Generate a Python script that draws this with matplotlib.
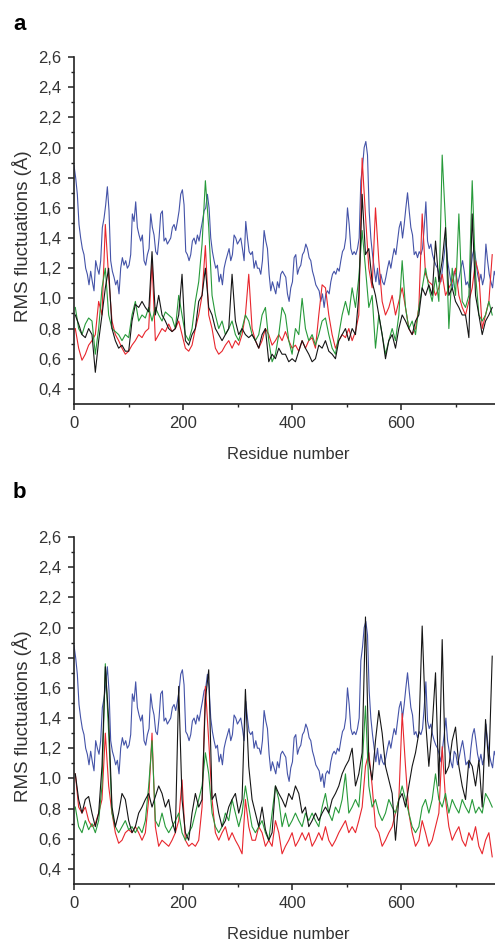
import matplotlib
matplotlib.use("Agg")
import matplotlib.pyplot as plt
import numpy as np
from matplotlib.ticker import FixedLocator, FuncFormatter

plt.rcParams["font.family"] = ["Liberation Sans", "DejaVu Sans"]

# residues per sample
STEP_FINE = 3.058
STEP_COARSE = 6.116
COARSE_START = 2.4

# reference structure, same curve in both panels
BLUE = [
    1.88, 1.80, 1.69, 1.49, 1.40, 1.33, 1.29, 1.20, 1.16, 1.09,
    1.18, 1.11, 1.05, 1.25, 1.20, 1.16, 1.25, 1.47, 1.53, 1.62,
    1.74, 1.58, 1.25, 1.18, 1.14, 1.09, 1.12, 1.03, 1.20, 1.27,
    1.22, 1.25, 1.20, 1.22, 1.29, 1.56, 1.51, 1.64, 1.47, 1.42,
    1.38, 1.42, 1.25, 1.22, 1.29, 1.33, 1.56, 1.47, 1.42, 1.31,
    1.29, 1.40, 1.56, 1.58, 1.38, 1.40, 1.36, 1.38, 1.40, 1.47,
    1.49, 1.45, 1.51, 1.58, 1.69, 1.72, 1.62, 1.31, 1.29, 1.25,
    1.29, 1.38, 1.40, 1.36, 1.42, 1.38, 1.45, 1.51, 1.58, 1.60,
    1.69, 1.60, 1.40, 1.31, 1.25, 1.20, 1.22, 1.11, 1.16, 1.09,
    1.20, 1.25, 1.29, 1.33, 1.25, 1.29, 1.42, 1.40, 1.36, 1.38,
    1.40, 1.33, 1.25, 1.51, 1.40, 1.31, 1.29, 1.31, 1.20, 1.25,
    1.20, 1.20, 1.16, 1.25, 1.45, 1.38, 1.33, 1.16, 1.05, 1.11,
    1.07, 1.03, 1.11, 1.07, 1.16, 1.18, 1.16,
    1.14, 1.03, 0.98, 1.07, 1.11, 1.27, 1.29, 1.16, 1.20, 1.22,
    1.29, 1.31, 1.36, 1.33, 1.27, 1.25, 1.18, 1.14, 1.09, 1.07,
    1.05, 0.98, 1.03, 0.94, 1.03, 1.05, 1.03, 1.11, 1.16, 1.18,
    1.16, 1.20, 1.18, 1.25, 1.31, 1.33, 1.40, 1.60, 1.49, 1.33,
    1.29, 1.31, 1.29, 1.33, 1.40, 1.78, 1.87, 2.00, 2.04, 1.95,
    1.58, 1.40, 1.29, 1.20, 1.11, 1.20, 1.09, 1.16, 1.11, 1.09,
    1.14, 1.20, 1.25, 1.20, 1.27, 1.33, 1.29, 1.38, 1.47, 1.51,
    1.40, 1.49, 1.60, 1.70, 1.58, 1.47, 1.42, 1.29, 1.31, 1.27,
    1.31, 1.29, 1.33, 1.47, 1.64, 1.38, 1.33, 1.36, 1.29, 1.25,
    1.22, 1.20, 1.16, 1.11, 1.20, 1.29, 1.40, 1.25, 1.18, 1.11,
    1.07, 1.18, 1.16, 1.09, 1.14, 1.20, 1.25, 1.18, 1.09, 1.11,
    1.07, 1.20, 1.29, 1.33, 1.25, 1.16, 1.11, 1.16, 1.09, 1.14,
    1.36, 1.25, 1.16, 1.11, 1.07, 1.18, 1.14,
]

# panel a
RED_A = [
    0.80, 0.67, 0.59, 0.63, 0.69, 0.72, 0.76, 0.98, 0.89, 1.49,
    1.14, 0.85, 0.76, 0.72, 0.67, 0.63, 0.65, 0.69, 0.72, 0.76,
    0.74, 0.78, 0.80, 1.25, 0.72, 0.76, 0.80, 0.78, 0.83, 0.78,
    0.80, 0.85, 0.76, 0.67, 0.65, 0.69, 0.80, 0.89, 1.02, 1.35,
    0.89, 0.80, 0.67, 0.63, 0.65, 0.69, 0.72, 0.67, 0.72, 0.69,
    0.76, 0.89, 1.16, 0.80, 0.72, 0.67, 0.72, 0.80, 0.76, 0.69,
    0.72, 0.76, 0.72,
    0.78, 0.72, 0.67, 0.69, 0.65, 0.72, 0.67, 0.72, 0.74, 0.67,
    0.89, 1.09, 1.07, 0.89, 0.76, 0.67, 0.72, 0.76, 0.74, 0.80,
    0.72, 0.78, 0.89, 1.93, 1.55, 1.20, 1.07, 1.60, 1.25, 0.98,
    0.89, 0.94, 1.02, 0.89, 0.98, 1.07, 0.94, 0.80, 0.76, 0.80,
    0.94, 1.56, 1.16, 1.11, 1.09, 1.02, 1.07, 1.16, 1.02, 1.07,
    1.11, 1.20, 1.02, 0.94, 0.89, 0.98, 1.07, 1.25, 1.16, 0.80,
    0.89, 0.98, 1.29,
]
GREEN_A = [
    0.94, 0.80, 0.76, 0.83, 0.87, 0.85, 0.63, 0.80, 1.07, 1.20,
    0.89, 0.80, 0.78, 0.76, 0.72, 0.76, 0.74, 0.89, 0.98, 0.85,
    0.89, 0.87, 0.94, 0.85, 0.94, 0.89, 0.85, 0.91, 0.89, 0.87,
    0.80, 1.02, 0.89, 0.76, 0.72, 0.80, 0.98, 1.11, 1.36, 1.78,
    1.47, 1.02, 0.89, 0.80, 0.85, 0.76, 0.80, 0.85, 0.76, 0.72,
    0.80, 0.89, 0.85, 0.76, 0.72, 0.76, 0.89, 0.94, 0.72, 0.58,
    0.63, 0.76, 0.94,
    0.89, 0.72, 0.63, 0.80, 0.76, 1.00, 0.80, 0.72, 0.76, 0.69,
    0.76, 0.85, 0.87, 0.76, 0.67, 0.63, 0.76, 0.89, 0.98, 0.89,
    1.07, 0.94, 1.14, 1.45, 1.20, 0.94, 1.02, 0.67, 0.89, 0.76,
    0.63, 0.72, 0.80, 0.72, 0.89, 1.25, 0.94, 0.80, 0.85, 0.76,
    0.94, 1.07, 1.20, 1.07, 0.98, 1.14, 0.98, 1.95, 1.50, 0.80,
    1.20, 1.02, 1.56, 0.98, 0.94, 1.02, 1.78, 1.16, 0.89, 0.85,
    0.89, 0.98, 0.89,
]
BLACK_A = [
    0.89, 0.83, 0.76, 0.74, 0.80, 0.76, 0.51, 0.72, 0.89, 1.07,
    1.20, 0.80, 0.72, 0.67, 0.69, 0.65, 0.65, 0.85, 0.96, 0.94,
    0.98, 0.94, 0.91, 1.31, 0.89, 1.02, 0.89, 0.85, 0.80, 0.78,
    0.80, 0.89, 1.16, 0.72, 0.69, 0.76, 0.80, 0.98, 1.02, 1.20,
    0.94, 0.89, 0.80, 0.76, 0.72, 0.76, 0.80, 1.16, 0.85, 0.76,
    0.80, 0.76, 0.74, 0.76, 0.72, 0.67, 0.76, 0.80, 0.58, 0.63,
    0.60, 0.67, 0.63,
    0.63, 0.58, 0.60, 0.58, 0.65, 0.72, 0.67, 0.63, 0.58, 0.60,
    0.69, 0.67, 0.72, 0.65, 0.63, 0.60, 0.72, 0.76, 0.80, 0.72,
    0.80, 0.76, 1.02, 1.69, 1.29, 1.33, 1.11, 1.02, 0.89, 0.76,
    0.60, 0.72, 0.76, 0.67, 0.80, 0.89, 0.85, 0.80, 0.76, 0.85,
    0.89, 1.07, 1.02, 1.09, 1.02, 1.38, 1.11, 1.25, 1.47, 1.02,
    1.07, 0.98, 0.94, 0.89, 0.89, 0.74, 1.56, 1.02, 0.89, 0.76,
    0.85, 0.89, 0.94,
]

# panel b
RED_B = [
    1.03, 0.81, 0.77, 0.81, 0.72, 0.68, 0.70, 0.77, 0.86, 1.30,
    0.95, 0.77, 0.64, 0.57, 0.59, 0.64, 0.66, 0.64, 0.68, 0.64,
    0.59, 0.64, 0.86, 1.30, 0.68, 0.55, 0.59, 0.57, 0.55, 0.59,
    0.64, 0.72, 0.99, 0.59, 0.55, 0.57, 0.55, 0.59, 0.81, 1.61,
    1.25, 0.86, 0.64, 0.59, 0.64, 0.68, 0.59, 0.64, 0.59, 0.55,
    0.50, 0.86, 0.68, 0.59, 0.59, 0.68, 0.64, 0.55, 0.59, 0.55,
    0.72, 0.64, 0.50,
    0.55, 0.59, 0.64, 0.55, 0.59, 0.64, 0.59, 0.64, 0.55, 0.59,
    0.64, 0.59, 0.68, 0.59, 0.55, 0.59, 0.64, 0.68, 0.72, 0.64,
    0.68, 0.64, 0.72, 0.81, 1.08, 1.17, 0.95, 0.68, 0.64, 0.55,
    0.59, 0.64, 0.68, 0.77, 0.86, 1.43, 1.08, 0.77, 0.64, 0.55,
    0.59, 0.72, 0.64, 0.55, 0.59, 0.68, 0.77, 1.21, 0.86, 0.68,
    0.59, 0.64, 0.68, 0.59, 0.55, 0.64, 0.59, 0.68, 0.55, 0.50,
    0.59, 0.64, 0.48,
]
GREEN_B = [
    0.81, 0.68, 0.64, 0.72, 0.66, 0.70, 0.64, 0.72, 0.95, 1.76,
    1.30, 0.77, 0.68, 0.64, 0.68, 0.72, 0.66, 0.68, 0.64, 0.68,
    0.64, 0.72, 0.95, 1.25, 0.72, 0.68, 0.77, 0.68, 0.64, 0.68,
    0.72, 0.77, 0.64, 0.59, 0.64, 0.68, 0.77, 0.86, 0.95, 1.17,
    1.03, 0.77, 0.68, 0.64, 0.68, 0.77, 0.72, 0.86, 0.77, 0.68,
    0.77, 0.95, 0.81, 0.68, 0.64, 0.68, 0.72, 0.64, 0.59, 0.77,
    0.95, 0.86, 0.68,
    0.77, 0.68, 0.72, 0.77, 0.72, 0.68, 0.77, 0.72, 0.77, 0.72,
    0.68, 0.81, 0.90, 0.77, 0.72, 0.81, 0.77, 0.86, 1.03, 0.77,
    0.81, 0.86, 0.81, 1.08, 1.48, 0.95, 0.81, 0.86, 0.77, 0.72,
    0.77, 0.86, 0.81, 0.77, 0.86, 0.95, 0.86, 0.77, 0.68, 0.64,
    0.68, 0.81, 0.86, 0.77, 0.86, 1.03, 0.86, 0.81, 0.90, 0.77,
    0.86, 0.81, 0.77, 0.86, 0.81, 0.77, 0.86, 0.77, 0.81, 0.77,
    0.90, 0.86, 0.81,
]
BLACK_B = [
    1.03, 0.86, 0.77, 0.86, 0.88, 0.77, 0.68, 0.77, 1.08, 1.74,
    1.39, 0.81, 0.68, 0.77, 0.90, 0.86, 0.72, 0.64, 0.68, 0.77,
    0.81, 0.86, 0.90, 0.81, 0.88, 0.95, 0.90, 0.81, 0.86, 0.72,
    0.64, 1.61, 0.86, 0.64, 0.59, 0.77, 0.90, 0.81, 0.86, 1.52,
    1.72, 0.86, 0.90, 0.77, 0.68, 0.72, 0.81, 0.86, 0.90, 0.77,
    0.86, 1.59, 1.08, 0.86, 0.77, 0.68, 0.81, 0.66, 0.59, 0.64,
    0.95, 0.90, 0.86,
    0.81, 0.90, 0.86, 0.95, 0.90, 0.77, 0.81, 0.68, 0.72, 0.77,
    0.72, 0.77, 0.81, 0.77, 0.86, 0.90, 0.95, 1.03, 1.08, 1.12,
    1.20, 0.95, 1.03, 1.17, 2.07, 1.12, 0.99, 1.25, 1.45, 1.30,
    1.08, 0.99, 0.90, 0.59, 0.86, 0.90, 0.81, 0.95, 1.08, 1.17,
    1.30, 2.01, 1.39, 1.08, 1.34, 1.70, 0.95, 1.92, 1.03, 1.08,
    1.25, 1.34, 1.08, 0.95, 0.86, 1.12, 1.08, 0.95, 1.12, 0.81,
    1.39, 1.08, 1.81,
]

Y_TICKS = [0.4, 0.6, 0.8, 1.0, 1.2, 1.4, 1.6, 1.8, 2.0, 2.2, 2.4, 2.6]
X_TICKS = [0, 200, 400, 600]

COLORS = {"blue": "#4453a8", "red": "#e8262d", "green": "#279a3a", "black": "#151515"}


def draw_panel(ax, red, green, black):
    x_fine = np.arange(len(BLUE)) * STEP_FINE
    x_coarse = COARSE_START + np.arange(len(red)) * STEP_COARSE
    lw = 0.8
    ax.plot(x_fine, BLUE, color=COLORS["blue"], lw=lw)
    ax.plot(x_coarse, red, color=COLORS["red"], lw=lw)
    ax.plot(x_coarse, green, color=COLORS["green"], lw=lw)
    ax.plot(x_coarse, black, color=COLORS["black"], lw=lw)

    ax.set_xlim(0, 772)
    ax.set_ylim(0.3, 2.6)
    for side in ("top", "right"):
        ax.spines[side].set_visible(False)
    for side in ("left", "bottom"):
        ax.spines[side].set_linewidth(1.2)
        ax.spines[side].set_color("#222222")

    ax.xaxis.set_major_locator(FixedLocator(X_TICKS))
    ax.xaxis.set_minor_locator(FixedLocator([100, 300, 500, 700]))
    ax.yaxis.set_major_locator(FixedLocator(Y_TICKS))
    ax.yaxis.set_minor_locator(FixedLocator(np.arange(0.5, 2.6, 0.2)))
    ax.yaxis.set_major_formatter(FuncFormatter(lambda v, _: f"{v:.1f}".replace(".", ",")))

    ax.tick_params(which="major", direction="out", length=4, width=1.1,
                   labelsize=12, pad=5, color="#222222", labelcolor="#333333")
    ax.tick_params(which="minor", direction="out", length=2.5, width=1.0, color="#222222")

    ax.set_xlabel("Residue number", fontsize=12, color="#333333")
    ax.set_ylabel("RMS fluctuations (Å)", fontsize=13.5, color="#333333")
    ax.xaxis.set_label_coords(0.508, -0.124)
    ax.yaxis.set_label_coords(-0.10, 0.484)


W, H = 495, 943
fig = plt.figure(figsize=(W / 100, H / 100), dpi=100)

left = 74 / W
width = 1 - left
for top_px, bottom_px, red, green, black in ((57, 404, RED_A, GREEN_A, BLACK_A),
                                              (537, 884, RED_B, GREEN_B, BLACK_B)):
    ax = fig.add_axes([left, 1 - bottom_px / H, width, (bottom_px - top_px) / H])
    draw_panel(ax, red, green, black)

fig.text(13 / W, 1 - 30 / H, "a", fontsize=16, fontweight="bold", va="baseline")
fig.text(13 / W, 1 - 498 / H, "b", fontsize=16, fontweight="bold", va="baseline")

fig.savefig("out.png", dpi=100)
